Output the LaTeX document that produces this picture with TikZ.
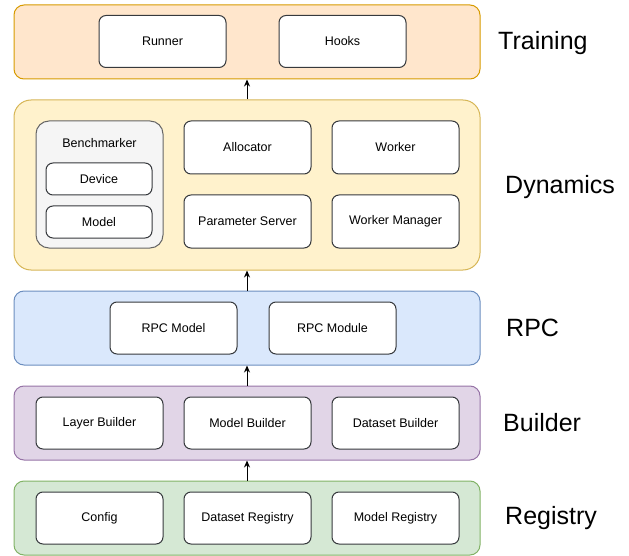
\documentclass[tikz,border=0pt]{standalone}
\usepackage{fontspec}
\setmainfont{Liberation Sans}
\usetikzlibrary{arrows.meta}
\definecolor{trainfill}{HTML}{FFE6CC}
\definecolor{trainline}{HTML}{D79B00}
\definecolor{dynfill}{HTML}{FFF2CC}
\definecolor{dynline}{HTML}{D6B656}
\definecolor{rpcfill}{HTML}{DAE8FC}
\definecolor{rpcline}{HTML}{6C8EBF}
\definecolor{buildfill}{HTML}{E1D5E7}
\definecolor{buildline}{HTML}{9673A6}
\definecolor{regfill}{HTML}{D5E8D4}
\definecolor{regline}{HTML}{82B366}
\definecolor{benchfill}{HTML}{F5F5F5}
\definecolor{benchline}{HTML}{666666}
\definecolor{unitline}{HTML}{36393D}
\newcommand{\unitfont}{\fontsize{12.5}{15}\selectfont}
\newcommand{\tagfont}{\fontsize{25}{30}\selectfont}
\tikzset{
  layer/.style={draw, line width=1pt, rounded corners=10pt, minimum width=466pt, minimum height=74pt},
  unit/.style={draw=unitline, fill=white, line width=1pt, rounded corners=7pt,
    minimum width=127pt, minimum height=52pt, inner sep=0pt, font=\unitfont},
  tag/.style={anchor=base west, inner sep=0pt, font=\tagfont},
  up/.style={-{Stealth[length=7pt,width=6pt]}, line width=1pt},
}

\begin{document}
\begin{tikzpicture}[x=1pt,y=-1pt]
\useasboundingbox (0,0) rectangle (629,556);
\def\colA{99.5};
\def\colstep{148};

% layers, top to bottom
\node[layer, draw=trainline, fill=trainfill] (training) at (247,42) {};
\node[layer, draw=dynline, fill=dynfill, minimum height=170pt, rounded corners=17pt] (dynamics) at (247,185) {};
\node[layer, draw=rpcline, fill=rpcfill] (rpc) at (247,328) {};
\node[layer, draw=buildline, fill=buildfill] (builder) at (247,423) {};
\node[layer, draw=regline, fill=regfill] (registry) at (247,518) {};

% training
\node[unit] (runner) at (162.5,41.5) {Runner};
\node[unit] (hooks) at (342.5,41.5) {Hooks};

% dynamics
\node[draw=benchline, fill=benchfill, line width=1pt, rounded corners=13pt,
  minimum width=127pt, minimum height=127pt] (bench) at (\colA,184.5) {};
\node[font=\unitfont] (benchtitle) at (\colA,143) {Benchmarker};
\node[unit, minimum width=106pt, minimum height=32pt] (device) at (99,179) {Device};
\node[unit, minimum width=106pt, minimum height=32pt] (model) at (99,222) {Model};
\node[unit, minimum height=53pt] (allocator) at ({\colA+\colstep},147.5) {Allocator};
\node[unit, minimum height=53pt] (worker) at ({\colA+2*\colstep},147.5) {Worker};
\node[unit, minimum height=53pt] (paramserver) at ({\colA+\colstep},221.5) {Parameter Server};
\node[unit, minimum height=53pt] (workermgr) at ({\colA+2*\colstep},221.5) {Worker Manager};

% rpc
\node[unit] (rpcmodel) at (173.5,328) {RPC Model};
\node[unit] (rpcmodule) at (332.5,328) {RPC Module};

% builder and registry rows
\foreach \name/\txt [count=\i] in {layerbuilder/Layer Builder, modelbuilder/Model Builder, datasetbuilder/Dataset Builder}
  \node[unit] (\name) at ({\colA+\colstep*(\i-1)},423) {\txt};
\foreach \name/\txt [count=\i] in {config/Config, datasetreg/Dataset Registry, modelreg/Model Registry}
  \node[unit] (\name) at ({\colA+\colstep*(\i-1)},518) {\txt};

% arrows between layers
\draw[up] (dynamics.north) -- (training.south);
\draw[up] (rpc.north) -- (dynamics.south);
\draw[up] (builder.north) -- (rpc.south);
\draw[up] (registry.north) -- (builder.south);

% layer names
\node[tag] (trainingtag) at (498,50) {Training};
\node[tag] (dynamicstag) at (505,194) {Dynamics};
\node[tag] (rpctag) at (506,336) {RPC};
\node[tag] (buildertag) at (503,431) {Builder};
\node[tag] (registrytag) at (505,524) {Registry};
\end{tikzpicture}
\end{document}
